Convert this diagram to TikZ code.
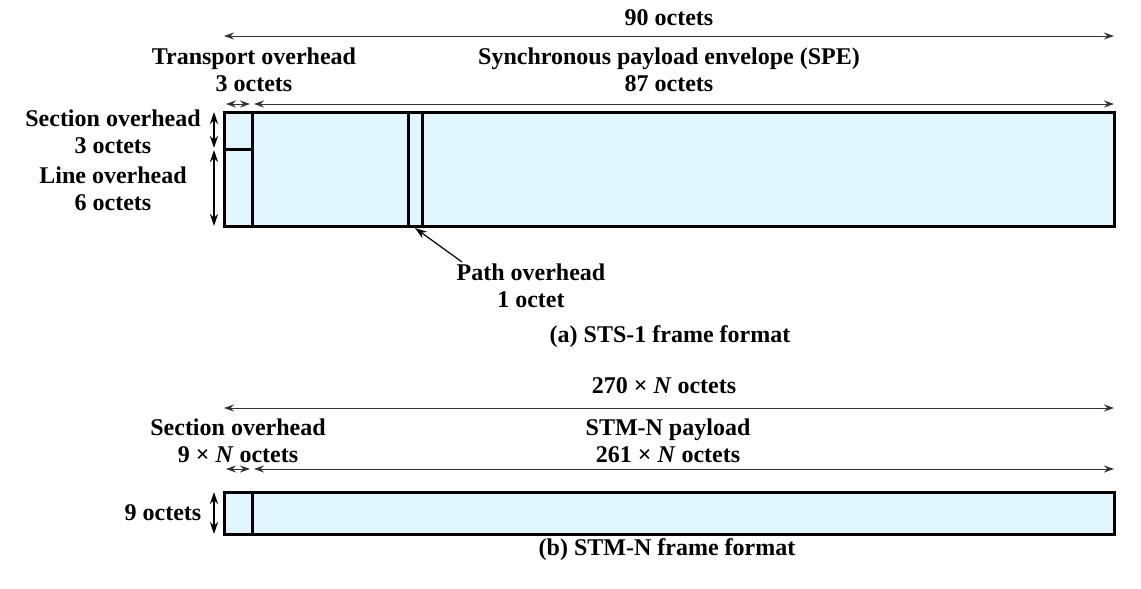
\documentclass[tikz,border=0pt]{standalone}
\usepackage{fontspec}
\setmainfont{Liberation Serif}
\usetikzlibrary{arrows.meta}

\begin{document}
\begin{tikzpicture}[x=0.5pt,y=-0.5pt,
	lbl/.style={font=\fontsize{12}{13.5}\selectfont\bfseries,inner sep=0pt,align=center},
	dim/.style={{Stealth[length=5pt,width=3.5pt]}-{Stealth[length=5pt,width=3.5pt]},black!80,line width=0.5pt},
	vdim/.style={{Stealth[length=6pt,width=4pt]}-{Stealth[length=6pt,width=4pt]},line width=0.8pt},
	frame/.style={draw,line width=1.5pt,fill=cyan!12}]
\useasboundingbox (0,0) rectangle (1141,589);
% (a) STS-1
\coordinate (a1) at (224,112); \coordinate (a2) at (1114,226);
\draw[frame] (a1) rectangle (a2);
\draw[line width=1.5pt] (252,112) -- (252,226) (224,149) -- (252,149)
	(408,112) -- (408,226) (422,112) -- (422,226);
\draw[dim] (224,36) -- (1114,36);
\draw[dim] (226,104) -- (250,104);
\draw[dim] (254,104) -- (1114,104);
\node[lbl] (tot) at (669,18) {90 octets};
\node[lbl] (toh) at (254,70) {Transport overhead\\3 octets};
\node[lbl] (spe) at (669,70) {Synchronous payload envelope (SPE)\\87 octets};
\draw[vdim] (214,112) -- (214,148);
\draw[vdim] (214,150) -- (214,226);
\node[lbl] (soh) at (113,132) {Section overhead\\3 octets};
\node[lbl] (loh) at (113,189) {Line overhead\\6 octets};
\node[lbl] (poh) at (531,286) {Path overhead\\1 octet};
\coordinate (p0) at (462,262);
\draw[-{Stealth[length=6pt,width=4pt]},line width=0.6pt] (p0) -- (415,228);
\node[lbl] (capa) at (670,337) {(a) STS-1 frame format};
% (b) STM-N
\coordinate (b1) at (224,492); \coordinate (b2) at (1114,534);
\draw[frame] (b1) rectangle (b2);
\draw[line width=1.5pt] (252,492) -- (252,534);
\draw[dim] (224,408) -- (1114,408);
\draw[dim] (226,469) -- (250,469);
\draw[dim] (254,469) -- (1114,469);
\node[lbl] (totb) at (664,386) {270 × \textit{N} octets};
\node[lbl] (sohb) at (238,441) {Section overhead\\9 × \textit{N} octets};
\node[lbl] (pay) at (668,441) {STM-N payload\\261 × \textit{N} octets};
\draw[vdim] (214,492) -- (214,534);
\node[lbl] (nine) at (163,513) {9 octets};
\node[lbl] (capb) at (667,550) {(b) STM-N frame format};
\end{tikzpicture}
\end{document}
